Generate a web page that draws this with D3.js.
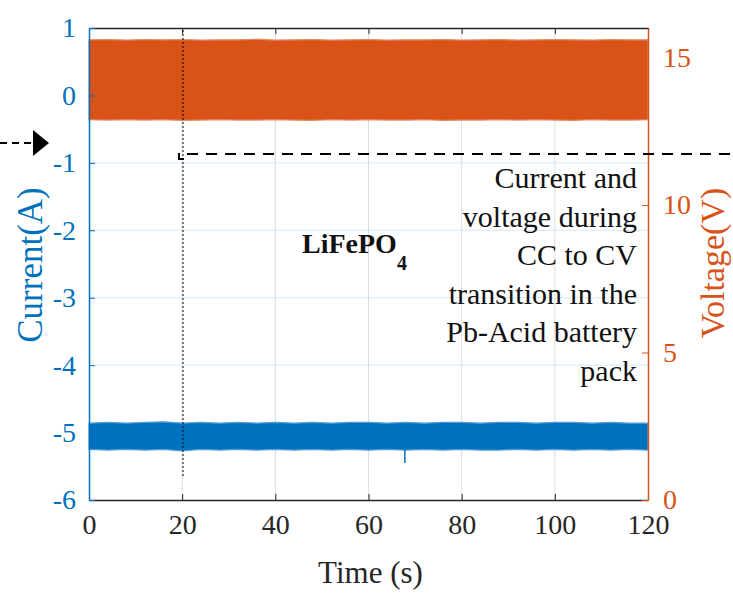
<!DOCTYPE html>
<html>
<head>
<meta charset="utf-8">
<script src="https://cdn.jsdelivr.net/npm/d3@7"></script>
<style>
  body { margin: 0; background: #fff; }
  svg { display: block; }
  svg text { font-family: "Liberation Serif", "DejaVu Serif", serif; }
</style>
</head>
<body>
<div id="chart"></div>
<script>
// ticks
const timeTicks = [0, 20, 40, 60, 80, 100, 120];
const currentTicks = [-6, -5, -4, -3, -2, -1, 0, 1];
const voltageTicks = [0, 5, 10, 15];

// envelope of the noisy traces, every 4 s
const sampleTime = [0, 4, 8, 12, 16, 20, 24, 28, 32, 36, 40, 44, 48, 52, 56, 60,
  64, 68, 72, 76, 80, 84, 88, 92, 96, 100, 104, 108, 112, 116, 120];
const voltageHigh = [15.60, 15.61, 15.59, 15.61, 15.60, 15.61, 15.59, 15.60, 15.60, 15.62, 15.59,
  15.60, 15.61, 15.59, 15.60, 15.61, 15.59, 15.60, 15.60, 15.61, 15.59, 15.60, 15.61, 15.59,
  15.60, 15.61, 15.60, 15.59, 15.61, 15.60, 15.60];
const voltageLow = [12.89, 12.88, 12.89, 12.88, 12.89, 12.87, 12.88, 12.89, 12.88, 12.88, 12.89,
  12.88, 12.87, 12.89, 12.88, 12.89, 12.88, 12.88, 12.89, 12.87, 12.88, 12.88, 12.89, 12.88,
  12.89, 12.88, 12.87, 12.89, 12.88, 12.88, 12.89];
const currentHigh = [-4.86, -4.85, -4.86, -4.85, -4.84, -4.86, -4.85, -4.86, -4.85, -4.86, -4.85,
  -4.86, -4.85, -4.86, -4.85, -4.85, -4.86, -4.85, -4.86, -4.85, -4.85, -4.86, -4.85, -4.85,
  -4.86, -4.85, -4.85, -4.86, -4.85, -4.86, -4.86];
const currentLow = [-5.25, -5.26, -5.25, -5.26, -5.25, -5.27, -5.25, -5.26, -5.25, -5.26, -5.25,
  -5.26, -5.25, -5.26, -5.25, -5.26, -5.25, -5.26, -5.25, -5.26, -5.25, -5.26, -5.26, -5.25,
  -5.26, -5.25, -5.26, -5.25, -5.26, -5.25, -5.26];
// single downward glitch in the current
const spikeTime = [67.8];
const spikeLow = [-5.45];

const noteLines = ["Current and", "voltage during", "CC to CV", "transition in the", "Pb-Acid battery", "pack"];

const blue = "#0072BD";
const orange = "#D95319";

const width = 733, height = 593;
const margin = { top: 28, right: 85, bottom: 93, left: 89 };

const svg = d3.select("#chart").append("svg")
  .attr("width", width)
  .attr("height", height);

const x = d3.scaleLinear().domain([0, 120]).range([margin.left, width - margin.right]);
const yI = d3.scaleLinear().domain([-6, 1]).range([height - margin.bottom, margin.top]);
const yV = d3.scaleLinear().domain([0, 16]).range([height - margin.bottom, margin.top]);

// grid
svg.append("g")
  .selectAll("line")
  .data(timeTicks.slice(1, -1))
  .join("line")
  .attr("x1", d => x(d)).attr("x2", d => x(d))
  .attr("y1", margin.top).attr("y2", height - margin.bottom)
  .attr("stroke", "#dcdcdc").attr("stroke-width", 1);

svg.append("g")
  .selectAll("line")
  .data(currentTicks.slice(1, -1))
  .join("line")
  .attr("x1", margin.left).attr("x2", width - margin.right)
  .attr("y1", d => yI(d)).attr("y2", d => yI(d))
  .attr("stroke", "#d6e8f6").attr("stroke-width", 1);

// traces as min/max bands
const idx = d3.range(sampleTime.length);

svg.append("path")
  .datum(idx)
  .attr("fill", orange)
  .attr("stroke", "#e58a60").attr("stroke-width", 1.2)
  .attr("d", d3.area()
    .x(i => x(sampleTime[i]))
    .y0(i => yV(voltageLow[i]))
    .y1(i => yV(voltageHigh[i])));

svg.append("path")
  .datum(idx)
  .attr("fill", blue)
  .attr("stroke", "#4f9ad3").attr("stroke-width", 1.2)
  .attr("d", d3.area()
    .x(i => x(sampleTime[i]))
    .y0(i => yI(currentLow[i]))
    .y1(i => yI(currentHigh[i])));

svg.append("g")
  .selectAll("line")
  .data(spikeTime)
  .join("line")
  .attr("x1", d => x(d)).attr("x2", d => x(d))
  .attr("y1", yI(-5.1))
  .attr("y2", (d, i) => yI(spikeLow[i]))
  .attr("stroke", blue).attr("stroke-width", 1.5);

// axes
const tickSize = 6;
const fmt = d => String(d);

const bottomAxis = svg.append("g")
  .attr("transform", `translate(0,${height - margin.bottom})`)
  .call(d3.axisBottom(x).tickValues(timeTicks).tickFormat(fmt)
    .tickSizeInner(-tickSize).tickSizeOuter(0).tickPadding(14));
bottomAxis.selectAll("text").attr("fill", "#262626").attr("dy", "0.71em");

const topAxis = svg.append("g")
  .attr("transform", `translate(0,${margin.top})`)
  .call(d3.axisTop(x).tickValues(timeTicks).tickSizeInner(-tickSize).tickSizeOuter(0).tickFormat(""));

[bottomAxis, topAxis].forEach(a => {
  a.select(".domain").attr("stroke", "#262626").attr("stroke-width", 1.5);
  a.selectAll(".tick line").attr("stroke", "#262626");
});

const leftAxis = svg.append("g")
  .attr("transform", `translate(${margin.left},0)`)
  .call(d3.axisLeft(yI).tickValues(currentTicks).tickFormat(fmt)
    .tickSizeInner(-tickSize).tickSizeOuter(0).tickPadding(13));
leftAxis.select(".domain").attr("stroke", blue).attr("stroke-width", 1.5);
leftAxis.selectAll(".tick line").attr("stroke", blue);
leftAxis.selectAll("text").attr("fill", blue);

const rightAxis = svg.append("g")
  .attr("transform", `translate(${width - margin.right},0)`)
  .call(d3.axisRight(yV).tickValues(voltageTicks).tickFormat(fmt)
    .tickSizeInner(-tickSize).tickSizeOuter(0).tickPadding(15));
rightAxis.select(".domain").attr("stroke", orange).attr("stroke-width", 1.5);
rightAxis.selectAll(".tick line").attr("stroke", orange);
rightAxis.selectAll("text").attr("fill", orange);

[bottomAxis, leftAxis, rightAxis].forEach(a => {
  a.attr("font-family", "Liberation Serif").attr("font-size", 28);
});

// axis titles
svg.append("text")
  .attr("x", x(60) + 2).attr("y", 583)
  .attr("text-anchor", "middle")
  .attr("font-size", 31).attr("fill", "#262626")
  .text("Time (s)");

svg.append("text")
  .attr("transform", `translate(42,265) rotate(-90)`)
  .attr("text-anchor", "middle")
  .attr("font-size", 35).attr("fill", blue)
  .text("Current(A)");

svg.append("text")
  .attr("transform", `translate(724,263) rotate(-90)`)
  .attr("text-anchor", "middle")
  .attr("font-size", 34).attr("fill", orange)
  .text("Voltage(V)");

// annotations
const lab = svg.append("text")
  .attr("x", 302).attr("y", 253)
  .attr("font-size", 28).attr("font-weight", "bold").attr("fill", "#111");
lab.append("tspan").text("LiFePO");
lab.append("tspan").attr("dy", 17).attr("font-size", 20).text("4");

svg.append("g")
  .attr("font-size", 30).attr("fill", "#111").attr("text-anchor", "end")
  .selectAll("text")
  .data(noteLines)
  .join("text")
  .attr("x", 637)
  .attr("y", (d, i) => 188 + i * 38.5)
  .text(d => d);

// marker arrow at the left edge
svg.append("line")
  .attr("x1", 0).attr("x2", 34).attr("y1", 143).attr("y2", 143)
  .attr("stroke", "#000").attr("stroke-width", 2).attr("stroke-dasharray", "7,5");
svg.append("path")
  .attr("d", "M33,130 L49,143 L33,156 Z")
  .attr("fill", "#000");

// transition marker
svg.append("line")
  .attr("x1", 183).attr("x2", 183).attr("y1", 30).attr("y2", 478)
  .attr("stroke", "#000").attr("stroke-width", 1).attr("stroke-dasharray", "2,2");
svg.append("path")
  .attr("d", "M179,153 L179,159 L184,159")
  .attr("fill", "none").attr("stroke", "#000").attr("stroke-width", 2);
svg.append("line")
  .attr("x1", 187).attr("x2", width).attr("y1", 154).attr("y2", 154)
  .attr("stroke", "#000").attr("stroke-width", 2).attr("stroke-dasharray", "11,8");
</script>
</body>
</html>
